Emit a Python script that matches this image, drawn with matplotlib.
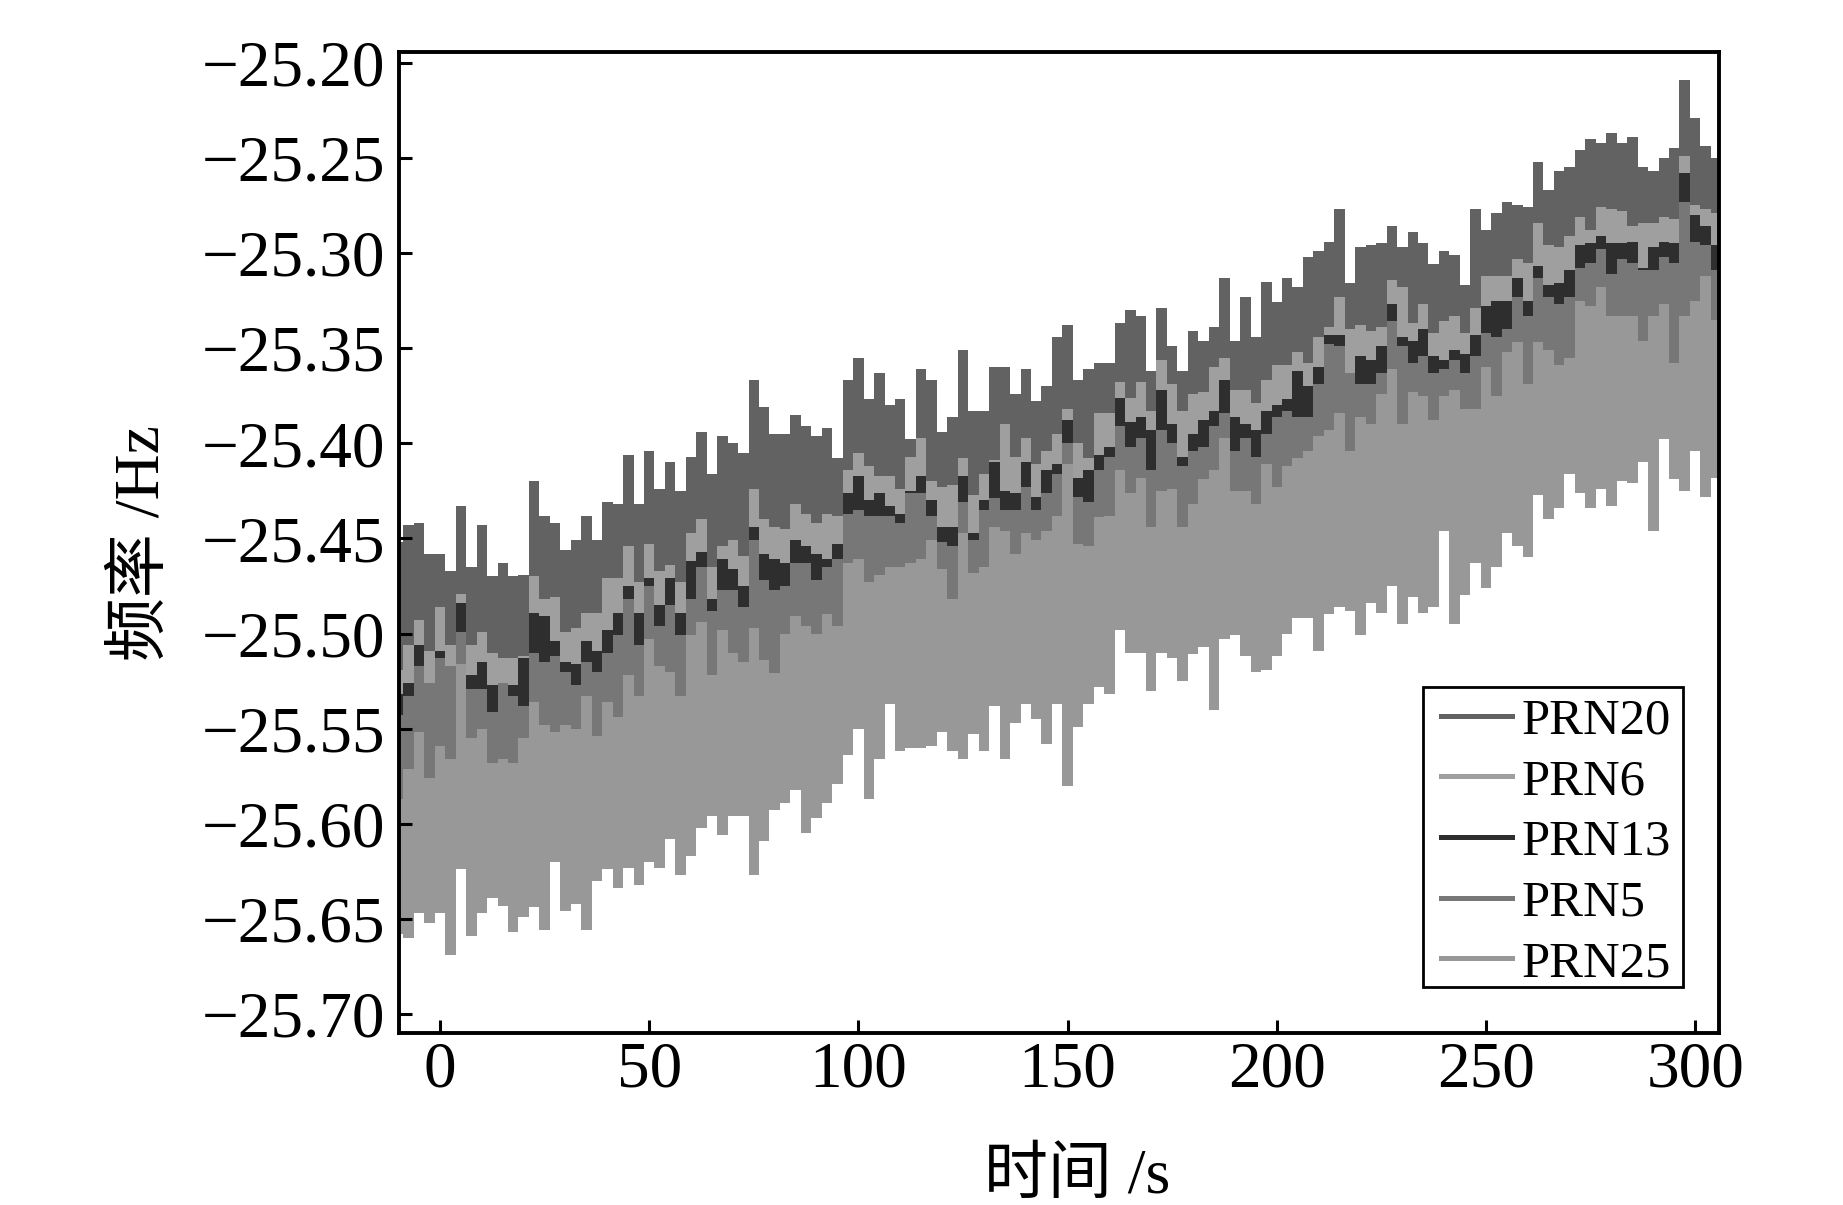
# frequency of the five PRN signals over time

import numpy as np
import matplotlib
matplotlib.use('Agg')
import matplotlib.pyplot as plt
from matplotlib.lines import Line2D
from matplotlib.patches import Rectangle

plt.rcParams['font.family'] = ['Liberation Serif', 'Noto Sans CJK SC']
plt.rcParams['axes.unicode_minus'] = True

# one reading every 2.5 s from -10 s to 307.5 s
time_s = np.arange(-10, 308, 2.5)

prn20_top = [
	-25.452,-25.443,-25.442,-25.458,-25.458,-25.467,-25.433,-25.465,-25.443,-25.470,
	-25.463,-25.470,-25.469,-25.420,-25.438,-25.442,-25.456,-25.451,-25.438,-25.451,
	-25.431,-25.432,-25.406,-25.432,-25.404,-25.424,-25.410,-25.425,-25.407,
	-25.394,-25.416,-25.396,-25.400,-25.405,-25.367,-25.381,-25.395,-25.395,-25.385,
	-25.391,-25.396,-25.392,-25.408,-25.367,-25.355,-25.377,-25.363,-25.380,-25.377,
	-25.398,-25.361,-25.367,-25.394,-25.386,-25.351,-25.383,-25.383,-25.360,
	-25.360,-25.374,-25.361,-25.378,-25.370,-25.344,-25.338,-25.367,-25.361,-25.358,
	-25.358,-25.337,-25.330,-25.333,-25.362,-25.329,-25.349,-25.362,-25.341,-25.346,
	-25.339,-25.313,-25.346,-25.323,-25.344,-25.315,-25.326,-25.313,-25.318,
	-25.302,-25.299,-25.294,-25.277,-25.316,-25.297,-25.296,-25.295,-25.286,-25.297,
	-25.289,-25.295,-25.306,-25.299,-25.301,-25.317,-25.277,-25.288,-25.279,-25.273,
	-25.275,-25.276,-25.252,-25.267,-25.257,-25.255,-25.246,-25.240,-25.242,-25.237,
	-25.242,-25.239,-25.255,-25.257,-25.250,-25.245,-25.209,-25.229,-25.244,-25.250,
	-25.250]

prn6_top = [
	-25.519,-25.506,-25.493,-25.509,-25.486,-25.506,-25.479,-25.506,-25.499,-25.510,
	-25.513,-25.513,-25.512,-25.470,-25.482,-25.481,-25.499,-25.497,-25.489,-25.489,
	-25.471,-25.471,-25.454,-25.473,-25.453,-25.467,-25.464,-25.473,-25.447,
	-25.440,-25.465,-25.454,-25.451,-25.459,-25.424,-25.440,-25.444,-25.445,-25.432,
	-25.437,-25.442,-25.437,-25.438,-25.414,-25.405,-25.412,-25.417,-25.417,-25.424,
	-25.407,-25.397,-25.420,-25.423,-25.422,-25.408,-25.427,-25.416,-25.409,
	-25.390,-25.407,-25.397,-25.411,-25.404,-25.395,-25.382,-25.400,-25.408,-25.384,
	-25.384,-25.368,-25.376,-25.368,-25.383,-25.356,-25.369,-25.383,-25.374,-25.373,
	-25.360,-25.355,-25.372,-25.372,-25.379,-25.367,-25.359,-25.359,-25.352,
	-25.358,-25.344,-25.339,-25.323,-25.340,-25.338,-25.341,-25.339,-25.314,-25.318,
	-25.337,-25.327,-25.342,-25.336,-25.333,-25.342,-25.329,-25.312,-25.312,-25.312,
	-25.303,-25.305,-25.284,-25.296,-25.297,-25.291,-25.281,-25.288,-25.276,-25.277,
	-25.278,-25.286,-25.284,-25.284,-25.281,-25.282,-25.249,-25.275,-25.277,-25.279,
	-25.279]

prn13_top = [
	-25.532,-25.526,-25.506,-25.531,-25.509,-25.527,-25.484,-25.522,-25.515,-25.527,
	-25.527,-25.527,-25.513,-25.489,-25.491,-25.504,-25.515,-25.516,-25.504,-25.509,
	-25.498,-25.489,-25.475,-25.489,-25.471,-25.485,-25.471,-25.489,-25.462,
	-25.457,-25.482,-25.461,-25.466,-25.475,-25.444,-25.458,-25.461,-25.463,-25.451,
	-25.454,-25.458,-25.461,-25.453,-25.426,-25.417,-25.430,-25.426,-25.433,-25.437,
	-25.425,-25.417,-25.430,-25.444,-25.444,-25.417,-25.447,-25.430,-25.410,
	-25.425,-25.426,-25.410,-25.428,-25.414,-25.411,-25.388,-25.418,-25.414,-25.406,
	-25.402,-25.376,-25.389,-25.386,-25.393,-25.372,-25.390,-25.407,-25.395,-25.388,
	-25.383,-25.367,-25.386,-25.390,-25.393,-25.383,-25.380,-25.377,-25.362,
	-25.370,-25.360,-25.343,-25.343,-25.374,-25.354,-25.356,-25.349,-25.327,-25.344,
	-25.346,-25.340,-25.354,-25.356,-25.351,-25.353,-25.343,-25.328,-25.325,-25.325,
	-25.313,-25.325,-25.307,-25.317,-25.316,-25.309,-25.296,-25.295,-25.291,-25.295,
	-25.295,-25.294,-25.308,-25.297,-25.294,-25.295,-25.258,-25.280,-25.286,-25.296,
	-25.296]

prn5_top = [
	-25.543,-25.533,-25.517,-25.526,-25.513,-25.517,-25.499,-25.529,-25.529,-25.541,
	-25.526,-25.533,-25.538,-25.510,-25.515,-25.512,-25.520,-25.527,-25.515,-25.520,
	-25.510,-25.501,-25.482,-25.506,-25.475,-25.496,-25.485,-25.501,-25.482,
	-25.465,-25.488,-25.477,-25.477,-25.486,-25.451,-25.472,-25.477,-25.475,-25.463,
	-25.463,-25.472,-25.465,-25.461,-25.437,-25.435,-25.438,-25.438,-25.438,-25.442,
	-25.426,-25.426,-25.438,-25.452,-25.454,-25.431,-25.451,-25.435,-25.429,
	-25.435,-25.435,-25.423,-25.435,-25.426,-25.416,-25.400,-25.428,-25.431,-25.414,
	-25.407,-25.391,-25.402,-25.397,-25.414,-25.393,-25.400,-25.412,-25.404,-25.402,
	-25.391,-25.384,-25.404,-25.397,-25.407,-25.395,-25.386,-25.383,-25.386,
	-25.386,-25.369,-25.348,-25.349,-25.363,-25.369,-25.369,-25.363,-25.336,-25.349,
	-25.358,-25.354,-25.363,-25.361,-25.356,-25.363,-25.354,-25.342,-25.344,-25.340,
	-25.323,-25.333,-25.313,-25.323,-25.327,-25.323,-25.308,-25.305,-25.298,-25.311,
	-25.303,-25.305,-25.309,-25.309,-25.302,-25.305,-25.273,-25.294,-25.296,-25.309,
	-25.309]

prn25_top = [
	-25.587,-25.571,-25.552,-25.576,-25.559,-25.566,-25.516,-25.555,-25.550,-25.568,
	-25.566,-25.568,-25.555,-25.536,-25.548,-25.552,-25.548,-25.550,-25.533,-25.554,
	-25.536,-25.544,-25.522,-25.533,-25.503,-25.517,-25.520,-25.533,-25.501,
	-25.494,-25.522,-25.498,-25.510,-25.515,-25.497,-25.514,-25.521,-25.500,-25.491,
	-25.496,-25.500,-25.490,-25.496,-25.463,-25.461,-25.473,-25.469,-25.465,-25.465,
	-25.463,-25.461,-25.451,-25.466,-25.482,-25.447,-25.468,-25.465,-25.444,
	-25.446,-25.458,-25.447,-25.451,-25.446,-25.438,-25.411,-25.453,-25.454,-25.439,
	-25.438,-25.414,-25.426,-25.418,-25.444,-25.425,-25.424,-25.444,-25.432,-25.419,
	-25.414,-25.397,-25.425,-25.425,-25.432,-25.411,-25.423,-25.412,-25.408,
	-25.404,-25.396,-25.393,-25.384,-25.404,-25.386,-25.390,-25.374,-25.361,-25.390,
	-25.373,-25.375,-25.388,-25.375,-25.372,-25.382,-25.382,-25.360,-25.375,-25.352,
	-25.347,-25.369,-25.347,-25.351,-25.359,-25.355,-25.325,-25.328,-25.318,-25.333,
	-25.333,-25.333,-25.346,-25.333,-25.327,-25.358,-25.333,-25.325,-25.312,-25.335,
	-25.335]

prn25_bottom = [
	-25.658,-25.660,-25.647,-25.652,-25.647,-25.669,-25.624,-25.659,-25.647,-25.639,
	-25.643,-25.657,-25.649,-25.644,-25.656,-25.620,-25.646,-25.642,-25.656,-25.630,
	-25.624,-25.634,-25.623,-25.632,-25.620,-25.623,-25.608,-25.627,-25.617,
	-25.602,-25.596,-25.606,-25.596,-25.596,-25.627,-25.609,-25.593,-25.589,-25.582,
	-25.605,-25.597,-25.589,-25.579,-25.564,-25.550,-25.587,-25.566,-25.537,-25.562,
	-25.560,-25.560,-25.559,-25.552,-25.562,-25.566,-25.553,-25.562,-25.538,
	-25.566,-25.547,-25.537,-25.545,-25.558,-25.537,-25.580,-25.549,-25.537,-25.528,
	-25.532,-25.498,-25.510,-25.510,-25.530,-25.510,-25.513,-25.525,-25.511,-25.507,
	-25.540,-25.503,-25.501,-25.512,-25.520,-25.519,-25.512,-25.500,-25.492,
	-25.492,-25.509,-25.490,-25.486,-25.488,-25.501,-25.484,-25.489,-25.475,-25.495,
	-25.481,-25.489,-25.486,-25.446,-25.495,-25.480,-25.463,-25.476,-25.465,-25.447,
	-25.454,-25.460,-25.427,-25.440,-25.434,-25.416,-25.426,-25.434,-25.424,-25.433,
	-25.420,-25.421,-25.410,-25.446,-25.398,-25.419,-25.425,-25.404,-25.428,-25.418,
	-25.418]

labels = ['PRN20', 'PRN6', 'PRN13', 'PRN5', 'PRN25']
colors = ['#626262', '#9f9f9f', '#2e2e2e', '#777777', '#989898']
tops = [prn20_top, prn6_top, prn13_top, prn5_top, prn25_top]

fig = plt.figure(figsize=(18.43, 12.05), dpi=100)
ax = fig.add_axes([399/1843, 1-1032.5/1205, 1320/1843, 980.8/1205])

# the traces are so dense they read as bands, later PRNs cover earlier ones
for top, color in zip(tops, colors):
	ax.fill_between(time_s, top, prn25_bottom, step='mid', color=color, lw=0)

ax.set_xlim(-9.8, 305.7)
ax.set_ylim(-25.7097, -25.1942)
ax.set_xticks([0, 50, 100, 150, 200, 250, 300])
ax.set_yticks(np.arange(-25.70, -25.19, 0.05))
ax.yaxis.set_major_formatter('{x:.2f}')
ax.tick_params(direction='in', top=False, right=False, length=9.5, width=2.2, labelsize=47)
ax.tick_params(axis='x', pad=6)
ax.tick_params(axis='y', pad=10)

for spine in ax.spines.values():
	spine.set_linewidth(2.8)

ax.set_xlabel('时间 /s', fontsize=46, va='center')
ax.xaxis.set_label_coords(0.514, -0.148)
ax.set_ylabel('频率 /Hz', fontsize=46, va='center')
ax.yaxis.set_label_coords(-0.194, 0.499)

# legend frame is drawn by hand, the built-in one pads rows and sides the same
ax.add_patch(Rectangle((0.7758, 0.0464), 0.1970, 0.3059, transform=ax.transAxes,
	facecolor='white', edgecolor='black', lw=2.0, zorder=4))
handles = [Line2D([], [], color=c, lw=3.6) for c in colors]
legend = ax.legend(handles, labels, loc='upper left', bbox_to_anchor=(0.7896, 0.3412),
	borderaxespad=0, borderpad=0, fontsize=36.5, frameon=False,
	handlelength=1.39, handletextpad=0.185, labelspacing=0.28)
legend.set_zorder(5)

plt.savefig('out.png', dpi=100)
